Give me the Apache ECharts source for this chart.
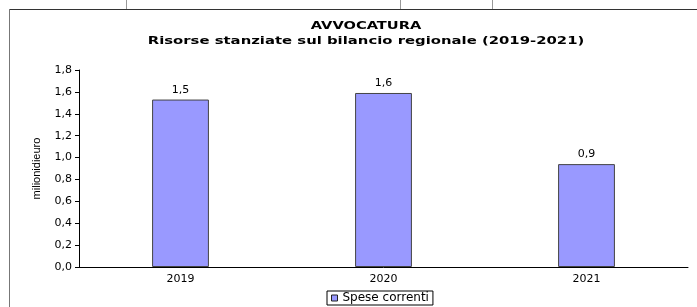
<!DOCTYPE html>
<html>
<head>
<meta charset="utf-8">
<script src="https://cdn.jsdelivr.net/npm/echarts@6/dist/echarts.min.js"></script>
<style>
  html, body { margin: 0; padding: 0; background: #fff; }
  #myChart { width: 697px; height: 307px; }
</style>
</head>
<body>
<div id="myChart"></div>
<script>
// dati
const anni = ['2019', '2020', '2021']
const speseCorrenti = [1.53, 1.59, 0.94]
const etichetteY = ['0,0', '0,2', '0,4', '0,6', '0,8', '1,0', '1,2', '1,4', '1,6', '1,8']
const titolo = 'AVVOCATURA'
const sottotitolo = 'Risorse stanziate sul bilancio regionale (2019-2021)'

const myChart = echarts.init(document.getElementById('myChart'))
myChart.setOption({
  animation: false,
  textStyle: { fontFamily: 'DejaVu Sans' },
  legend: {
    bottom: 2,
    left: 327,
    icon: 'rect',
    itemWidth: 6,
    itemHeight: 6,
    itemGap: 4,
    padding: [1, 4, 1, 4],
    borderColor: '#000',
    borderWidth: 1,
    textStyle: { fontSize: 12, lineHeight: 11, color: '#000' },
    data: [{ name: 'Spese correnti', itemStyle: { borderColor: '#222', borderWidth: 1 } }]
  },
  grid: { left: 79, right: 9, top: 70, bottom: 40 },
  xAxis: {
    type: 'category',
    data: anni,
    axisLine: { lineStyle: { color: '#000', width: 1 } },
    axisTick: { show: false },
    axisLabel: { fontSize: 11, color: '#000', margin: 7 }
  },
  yAxis: {
    type: 'value',
    min: 0,
    max: 1.8,
    interval: 0.2,
    name: 'milionidieuro',
    nameLocation: 'middle',
    nameGap: 37,
    nameTextStyle: { fontSize: 11, color: '#000', fontFamily: 'Liberation Sans' },
    splitLine: { show: false },
    axisLine: { show: true, lineStyle: { color: '#000', width: 1 } },
    axisTick: { show: true, length: 4, lineStyle: { color: '#000' } },
    axisLabel: {
      fontSize: 11,
      color: '#000',
      margin: 7,
      formatter: (v) => etichetteY[Math.round(v * 5)]
    }
  },
  series: [{
    name: 'Spese correnti',
    type: 'bar',
    data: speseCorrenti,
    barWidth: '28%',
    itemStyle: { color: '#9999FF', borderColor: '#444', borderWidth: 1 },
    label: {
      show: true,
      position: 'top',
      distance: 4,
      fontSize: 11,
      color: '#000',
      formatter: (p) => p.value.toFixed(1).replace('.', ',')
    }
  }],
  graphic: [
    // titolo (testo allargato come nell'originale)
    {
      type: 'text', x: 366, y: 26, scaleX: 1.33,
      style: { text: titolo, align: 'center', verticalAlign: 'middle', font: 'bold 11px "DejaVu Sans"', fill: '#000' }
    },
    {
      type: 'text', x: 366, y: 41, scaleX: 1.35,
      style: { text: sottotitolo, align: 'center', verticalAlign: 'middle', font: 'bold 11px "DejaVu Sans"', fill: '#000' }
    },
    // cornice della tabella
    { type: 'line', shape: { x1: 9, y1: 9.5, x2: 697, y2: 9.5 }, style: { stroke: '#333', lineWidth: 1 } },
    { type: 'line', shape: { x1: 9.5, y1: 9, x2: 9.5, y2: 307 }, style: { stroke: '#777', lineWidth: 1 } },
    { type: 'line', shape: { x1: 126.5, y1: 0, x2: 126.5, y2: 9 }, style: { stroke: '#999', lineWidth: 1 } },
    { type: 'line', shape: { x1: 400.5, y1: 0, x2: 400.5, y2: 9 }, style: { stroke: '#999', lineWidth: 1 } },
    { type: 'line', shape: { x1: 492.5, y1: 0, x2: 492.5, y2: 9 }, style: { stroke: '#999', lineWidth: 1 } }
  ]
})
</script>
</body>
</html>
